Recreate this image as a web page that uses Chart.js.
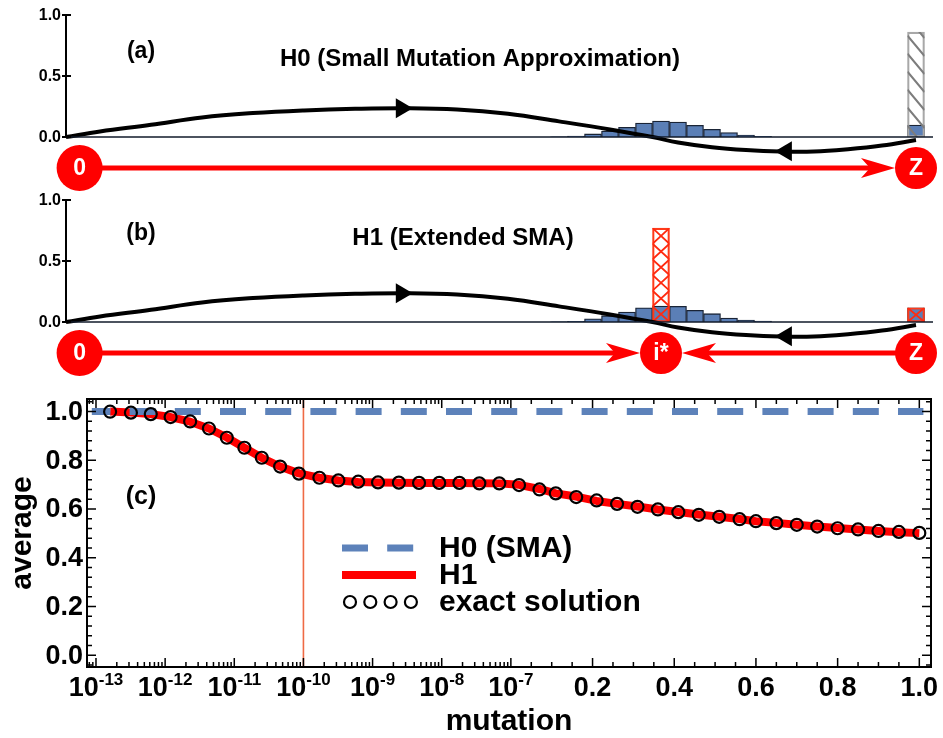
<!DOCTYPE html>
<html>
<head>
<meta charset="utf-8">
<title>Average under mutation</title>
<script src="https://cdn.jsdelivr.net/npm/chart.js@4.4.1/dist/chart.umd.min.js"></script>
<style>
  html, body { margin: 0; background: #fff; }
  #figure { position: relative; width: 943px; height: 738px; overflow: hidden; }
  #figure canvas { position: absolute; left: 0; }
</style>
</head>
<body>
<div id="figure">
  <canvas id="panelA" width="943" height="200" style="top:0"></canvas>
  <canvas id="panelB" width="943" height="200" style="top:185px"></canvas>
  <canvas id="panelC" width="943" height="363" style="top:375px"></canvas>
</div>
<script>
// ---------- panels (a) and (b): distribution over states 0..Z ----------
const histStates = [29, 30, 31, 32, 33, 34, 35, 36, 37, 38, 39, 40, 41, 50];
const histSMA = [0.002, 0.008, 0.025, 0.049, 0.079, 0.115, 0.131, 0.123, 0.096, 0.063, 0.036, 0.016, 0.005, 0.098];
const histExt = [0.002, 0.005, 0.027, 0.052, 0.082, 0.117, 0.131, 0.128, 0.096, 0.068, 0.033, 0.016, 0.008, 0.117];
const smaPeakStates = [50];
const smaPeakValues = [0.86];
const extPeakStates = [35, 50];
const extPeakValues = [0.77, 0.117];
// selection gradient drawn as the flow curve
const gradStates = [0, 2, 5, 8, 11, 14, 17, 20, 23, 26, 29, 32, 34.5, 36, 38, 40, 42, 44, 46, 48, 50];
const gradValues = [0, 0.045, 0.10, 0.16, 0.196, 0.218, 0.231, 0.236, 0.226, 0.19, 0.128, 0.062, 0, -0.045, -0.084, -0.107, -0.119, -0.119, -0.10, -0.07, -0.025];
const probTicks = [0, 0.5, 1.0];
const probTickLabels = ['0.0', '0.5', '1.0'];

// ---------- panel (c): average vs mutation ----------
const exactMutation = [1.6e-13, 3.2e-13, 6.2e-13, 1.2e-12, 2.3e-12, 4.3e-12, 7.8e-12, 1.4e-11, 2.5e-11, 4.6e-11, 8.6e-11,
  1.7e-10, 3.2e-10, 6.2e-10, 1.2e-9, 2.4e-9, 4.7e-9, 9.2e-9, 1.8e-8, 3.5e-8, 6.8e-8,
  0.02, 0.07, 0.11, 0.16, 0.21, 0.26, 0.31, 0.36, 0.41, 0.46, 0.51, 0.56, 0.60, 0.65, 0.70, 0.75, 0.80, 0.85, 0.90, 0.95, 1.0];
const exactAverage = [0.999, 0.995, 0.989, 0.977, 0.959, 0.930, 0.892, 0.851, 0.810, 0.774, 0.745,
  0.728, 0.717, 0.712, 0.709, 0.708, 0.707, 0.707, 0.707, 0.705, 0.705,
  0.698, 0.680, 0.664, 0.649, 0.635, 0.621, 0.609, 0.598, 0.587, 0.576, 0.568, 0.558, 0.550, 0.542, 0.535, 0.528, 0.521, 0.516, 0.510, 0.506, 0.502];
const h1Average = [1.0, 0.996, 0.989, 0.977, 0.958, 0.930, 0.893, 0.851, 0.810, 0.774, 0.746,
  0.728, 0.717, 0.711, 0.709, 0.708, 0.707, 0.707, 0.707, 0.706, 0.705,
  0.699, 0.682, 0.664, 0.651, 0.633, 0.621, 0.610, 0.598, 0.588, 0.577, 0.568, 0.559, 0.550, 0.543, 0.535, 0.528, 0.522, 0.516, 0.510, 0.505, 0.501];
const h0Mutation = [8.7e-14, 1.01];
const h0Average = [1.0, 1.0];
const markerMutation = 1e-10;
const avgTicks = [0, 0.2, 0.4, 0.6, 0.8, 1.0];
const avgTickLabels = ['0.0', '0.2', '0.4', '0.6', '0.8', '1.0'];
const mutTicks = [1e-13, 1e-12, 1e-11, 1e-10, 1e-9, 1e-8, 1e-7, 0.2, 0.4, 0.6, 0.8, 1.0];
const mutTickLabels = ['10^-13', '10^-12', '10^-11', '10^-10', '10^-9', '10^-8', '10^-7', '0.2', '0.4', '0.6', '0.8', '1.0'];

const FONT = '"Liberation Sans", Arial, Helvetica, sans-serif';
const bold = size => `bold ${size}px ${FONT}`;

// mutation axis: log decades up to 1e-7, then linear 0..1
const LOG_MIN = -13, LOG_MAX = -7, LIN_SPAN = 5.907;
function toAxis(m) {
  return m <= 1e-7 ? Math.log10(m) - LOG_MIN : (LOG_MAX - LOG_MIN) + m * LIN_SPAN;
}
const pts = (xs, ys, f = v => v) => xs.map((x, i) => ({ x: f(x), y: ys[i] }));

function arrowHead(ctx, tipX, tipY, dir, len, half, notch) {
  ctx.beginPath();
  ctx.moveTo(tipX, tipY);
  ctx.lineTo(tipX - dir * len, tipY - half);
  ctx.lineTo(tipX - dir * (len - notch), tipY);
  ctx.lineTo(tipX - dir * len, tipY + half);
  ctx.closePath();
  ctx.fill();
}

function curveValueAt(s) {
  for (let i = 1; i < gradStates.length; i++) {
    if (s <= gradStates[i]) {
      const t = (s - gradStates[i - 1]) / (gradStates[i] - gradStates[i - 1]);
      return gradValues[i - 1] + t * (gradValues[i] - gradValues[i - 1]);
    }
  }
  return gradValues[gradValues.length - 1];
}

const schematicPlugin = {
  id: 'schematic',
  afterDatasetDraw(chart, args) {
    const ds = chart.data.datasets[args.index];
    if (!ds.hatch) return;
    const ctx = chart.ctx;
    args.meta.data.forEach(el => {
      const { x, y, base, width } = el.getProps(['x', 'y', 'base', 'width'], true);
      const left = x - width / 2, right = x + width / 2;
      const top = Math.min(y, base), bottom = Math.max(y, base);
      ctx.save();
      ctx.beginPath();
      ctx.rect(left, top, right - left, bottom - top);
      ctx.clip();
      ctx.strokeStyle = ds.hatchColor;
      ctx.beginPath();
      if (ds.hatch === 'cross') {
        ctx.lineWidth = 1.8;
        const n = Math.max(1, Math.round((bottom - top) / 16));
        const h = (bottom - top) / n;
        for (let i = 0; i < n; i++) {
          ctx.moveTo(left, top + i * h); ctx.lineTo(right, top + (i + 1) * h);
          ctx.moveTo(right, top + i * h); ctx.lineTo(left, top + (i + 1) * h);
        }
      } else {
        ctx.lineWidth = 2;
        const drop = (right - left) * 1.2;
        for (let yy = top - drop + 6; yy < bottom; yy += 18) {
          ctx.moveTo(left, yy); ctx.lineTo(right, yy + drop);
        }
      }
      ctx.stroke();
      ctx.restore();
    });
  },
  afterDatasetsDraw(chart, args, opts) {
    const { ctx, chartArea: area, scales: { x, y } } = chart;
    ctx.save();
    // axes
    ctx.strokeStyle = '#000';
    ctx.lineWidth = 2;
    ctx.beginPath();
    ctx.moveTo(area.left, area.top); ctx.lineTo(area.left, area.bottom);
    ctx.stroke();
    ctx.strokeStyle = '#111a2a';
    ctx.lineWidth = 1.6;
    ctx.beginPath();
    ctx.moveTo(area.left, y.getPixelForValue(0)); ctx.lineTo(area.right, y.getPixelForValue(0));
    ctx.stroke();
    ctx.fillStyle = '#000';
    ctx.font = bold(16);
    ctx.textAlign = 'right';
    ctx.textBaseline = 'middle';
    probTicks.forEach((v, i) => {
      const py = y.getPixelForValue(v);
      ctx.lineWidth = 2;
      ctx.strokeStyle = '#000';
      ctx.beginPath(); ctx.moveTo(area.left - 4, py); ctx.lineTo(area.left + 5, py); ctx.stroke();
      ctx.fillText(probTickLabels[i], area.left - 5, py + 1);
    });
    // flow arrows on the curve
    opts.flowArrows.forEach(a => {
      const tx = x.getPixelForValue(a.state);
      const ty = y.getPixelForValue(curveValueAt(a.state));
      ctx.fillStyle = '#000';
      arrowHead(ctx, tx, ty, a.dir, 17, 10, 0);
    });
    // state nodes and red transitions
    const rowY = area.bottom + 31;
    const nodeX = opts.nodes.map(n => x.getPixelForValue(n.state));
    ctx.strokeStyle = '#ff0000';
    ctx.fillStyle = '#ff0000';
    ctx.lineWidth = 5;
    opts.arrows.forEach(a => {
      const x0 = nodeX[a.from], x1 = nodeX[a.to];
      const dir = Math.sign(x1 - x0);
      const tip = x1 - dir * 21;
      ctx.beginPath(); ctx.moveTo(x0, rowY); ctx.lineTo(tip - dir * 20, rowY); ctx.stroke();
      arrowHead(ctx, tip, rowY, dir, 34, 10, 9);
    });
    opts.nodes.forEach((n, i) => {
      ctx.fillStyle = '#ff0000';
      ctx.beginPath(); ctx.arc(nodeX[i], rowY, n.r, 0, Math.PI * 2); ctx.fill();
      ctx.fillStyle = '#fff';
      ctx.font = bold(23);
      ctx.textAlign = 'center';
      ctx.textBaseline = 'middle';
      ctx.fillText(n.text, nodeX[i], rowY + 1);
    });
    // labels
    ctx.fillStyle = '#000';
    ctx.textAlign = 'center';
    ctx.textBaseline = 'middle';
    ctx.font = bold(23);
    ctx.fillText(opts.letter, opts.letterPos[0], opts.letterPos[1]);
    ctx.font = bold(24);
    ctx.fillText(opts.title, opts.titlePos[0], opts.titlePos[1]);
    ctx.restore();
  }
};

function distributionChart(id, hist, peakStates, peakValues, hatch, hatchColor, edgeColor, schematic) {
  return new Chart(document.getElementById(id), {
    type: 'bar',
    data: {
      datasets: [
        {
          type: 'line',
          data: pts(gradStates, gradValues),
          borderColor: '#000',
          borderWidth: 4,
          pointRadius: 0,
          tension: 0.4,
          clip: false,
          order: 0
        },
        {
          data: pts(peakStates, peakValues),
          backgroundColor: 'rgba(0,0,0,0)',
          borderColor: edgeColor,
          borderWidth: 1.5,
          borderSkipped: false,
          barPercentage: 1,
          categoryPercentage: 1,
          grouped: false,
          hatch: hatch,
          hatchColor: hatchColor,
          order: 1
        },
        {
          data: pts(histStates, hist),
          backgroundColor: '#5b7fb6',
          borderColor: '#1a2436',
          borderWidth: 1.3,
          barPercentage: 1,
          categoryPercentage: 1,
          grouped: false,
          order: 2
        }
      ]
    },
    options: {
      responsive: false,
      animation: false,
      events: [],
      layout: { padding: { left: 66, right: 10, top: 15, bottom: 63 } },
      elements: { line: { capBezierPoints: false } },
      scales: {
        x: { type: 'linear', min: 0, max: 51, offset: false, display: false },
        y: { type: 'linear', min: 0, max: 1, display: false }
      },
      plugins: {
        legend: { display: false },
        tooltip: { enabled: false },
        schematic: schematic
      }
    },
    plugins: [schematicPlugin]
  });
}

distributionChart('panelA', histSMA, smaPeakStates, smaPeakValues, 'diag', '#7d7d7d', '#a8a8a8', {
  letter: '(a)', letterPos: [141, 52],
  title: 'H0 (Small Mutation Approximation)', titlePos: [480, 59],
  nodes: [{ text: '0', state: 0.8, r: 23 }, { text: 'Z', state: 50, r: 21 }],
  arrows: [{ from: 0, to: 1 }],
  flowArrows: [{ state: 20.4, dir: 1 }, { state: 41.7, dir: -1 }]
});

distributionChart('panelB', histExt, extPeakStates, extPeakValues, 'cross', '#ff2a10', '#ff3a1a', {
  letter: '(b)', letterPos: [141, 49],
  title: 'H1 (Extended SMA)', titlePos: [463, 53],
  nodes: [{ text: '0', state: 0.8, r: 23 }, { text: 'i*', state: 35, r: 21 }, { text: 'Z', state: 50, r: 21 }],
  arrows: [{ from: 0, to: 1 }, { from: 2, to: 1 }],
  flowArrows: [{ state: 20.4, dir: 1 }, { state: 41.7, dir: -1 }]
});

// ---------- panel (c) ----------
function drawTickLabel(ctx, text, cx, cy) {
  const [base, exp] = text.split('^');
  ctx.textBaseline = 'middle';
  if (!exp) {
    ctx.font = bold(27);
    ctx.textAlign = 'center';
    ctx.fillText(base, cx, cy);
    return;
  }
  ctx.font = bold(27);
  const wb = ctx.measureText(base).width;
  ctx.font = bold(17);
  const we = ctx.measureText(exp).width;
  const left = cx - (wb + we) / 2;
  ctx.textAlign = 'left';
  ctx.font = bold(27);
  ctx.fillText(base, left, cy);
  ctx.font = bold(17);
  ctx.fillText(exp, left + wb, cy - 9);
}

const framePlugin = {
  id: 'frame',
  beforeDatasetsDraw(chart) {
    const { ctx, chartArea: area, scales: { x } } = chart;
    const px = x.getPixelForValue(toAxis(markerMutation));
    ctx.save();
    ctx.strokeStyle = '#ef6a45';
    ctx.lineWidth = 1.6;
    ctx.beginPath(); ctx.moveTo(px, area.top); ctx.lineTo(px, area.bottom); ctx.stroke();
    ctx.restore();
  },
  afterDatasetsDraw(chart) {
    const { ctx, chartArea: area, scales: { x, y } } = chart;
    ctx.save();
    ctx.strokeStyle = '#000';
    ctx.fillStyle = '#000';
    ctx.lineWidth = 2;
    ctx.strokeRect(area.left, area.top, area.right - area.left, area.bottom - area.top);

    const inX = u => u >= x.min && u <= x.max;
    const xTick = (u, len) => {
      const px = x.getPixelForValue(u);
      ctx.moveTo(px, area.bottom); ctx.lineTo(px, area.bottom - len);
      ctx.moveTo(px, area.top); ctx.lineTo(px, area.top + len);
    };
    const yTick = (v, len) => {
      const py = y.getPixelForValue(v);
      ctx.moveTo(area.left, py); ctx.lineTo(area.left + len, py);
      ctx.moveTo(area.right, py); ctx.lineTo(area.right - len, py);
    };
    ctx.lineWidth = 1.5;
    ctx.beginPath();
    mutTicks.forEach(m => xTick(toAxis(m), 9));
    for (let d = -14; d <= -8; d++) {
      for (let j = 2; j <= 9; j++) {
        const u = toAxis(j * Math.pow(10, d));
        if (inX(u)) xTick(u, 5);
      }
    }
    for (let k = 1; k <= 21; k++) {
      if (k % 4 === 0) continue;
      const u = toAxis(k * 0.05);
      if (inX(u)) xTick(u, 5);
    }
    for (let k = -1; k <= 26; k++) {
      const v = k * 0.04;
      if (v < y.min || v > y.max) continue;
      yTick(v, k % 5 === 0 ? 9 : 5);
    }
    ctx.stroke();

    // tick labels
    ctx.font = bold(27);
    ctx.textAlign = 'right';
    ctx.textBaseline = 'middle';
    avgTicks.forEach((v, i) => ctx.fillText(avgTickLabels[i], area.left - 4, y.getPixelForValue(v) + 1));
    mutTicks.forEach((m, i) => drawTickLabel(ctx, mutTickLabels[i], x.getPixelForValue(toAxis(m)), area.bottom + 22));

    // axis titles and panel letter
    ctx.textAlign = 'center';
    ctx.textBaseline = 'middle';
    ctx.font = bold(30);
    ctx.fillText('mutation', (area.left + area.right) / 2, area.bottom + 55);
    ctx.save();
    ctx.translate(area.left - 64, (area.top + area.bottom) / 2);
    ctx.rotate(-Math.PI / 2);
    ctx.fillText('average', 0, 0);
    ctx.restore();
    ctx.font = bold(25);
    ctx.fillText('(c)', area.left + 54, area.top + 98);

    // legend
    const lx = area.left + 255, tx = area.left + 352;
    chart.data.datasets.forEach((ds, i) => {
      const ly = area.top + 149 + i * 27;
      ctx.save();
      if (ds.showLine === false) {
        ctx.strokeStyle = ds.pointBorderColor;
        ctx.lineWidth = ds.pointBorderWidth;
        for (let c = 0; c < 4; c++) {
          ctx.beginPath(); ctx.arc(lx + 8 + c * 20.3, ly, ds.pointRadius, 0, Math.PI * 2); ctx.stroke();
        }
      } else {
        ctx.strokeStyle = ds.borderColor;
        ctx.lineWidth = ds.borderWidth;
        ctx.setLineDash(ds.borderDash || []);
        ctx.beginPath(); ctx.moveTo(lx, ly); ctx.lineTo(lx + 74, ly); ctx.stroke();
      }
      ctx.restore();
      ctx.font = bold(30);
      ctx.textAlign = 'left';
      ctx.fillText(ds.label, tx, ly + 1);
    });
    ctx.restore();
  }
};

new Chart(document.getElementById('panelC'), {
  type: 'line',
  data: {
    datasets: [
      {
        label: 'H0 (SMA)',
        data: pts(h0Mutation, h0Average, toAxis),
        borderColor: '#5d82ba',
        borderWidth: 7,
        borderDash: [26, 19.2],
        borderDashOffset: 7.4,
        pointRadius: 0,
        order: 1
      },
      {
        label: 'H1',
        data: pts(exactMutation, h1Average, toAxis),
        borderColor: '#ff0000',
        borderWidth: 8,
        borderJoinStyle: 'round',
        pointRadius: 0,
        order: 2
      },
      {
        label: 'exact solution',
        data: pts(exactMutation, exactAverage, toAxis),
        showLine: false,
        pointRadius: 6,
        pointBorderWidth: 2.2,
        pointBorderColor: '#000',
        pointBackgroundColor: 'rgba(0,0,0,0)',
        order: 0
      }
    ]
  },
  options: {
    responsive: false,
    animation: false,
    events: [],
    layout: { padding: { left: 87, right: 12, top: 24, bottom: 71 } },
    scales: {
      x: { type: 'linear', min: -0.13, max: 12.076, display: false },
      y: { type: 'linear', min: -0.048, max: 1.051, display: false }
    },
    plugins: {
      legend: { display: false },
      tooltip: { enabled: false }
    }
  },
  plugins: [framePlugin]
});
</script>
</body>
</html>
